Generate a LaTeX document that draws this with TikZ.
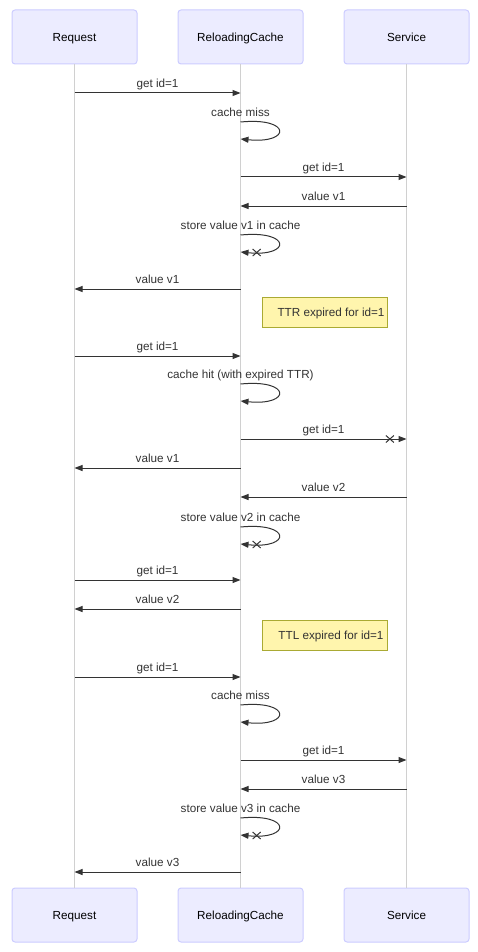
\documentclass[tikz,border=0pt]{standalone}
\usepackage{fontspec}
\setmainfont{Liberation Sans}
\usetikzlibrary{arrows.meta,shapes.misc}

\definecolor{actfill}{HTML}{ECECFF}
\definecolor{actline}{HTML}{CCCCFF}
\definecolor{notefill}{HTML}{FFF5AD}
\definecolor{noteline}{HTML}{AAAA33}
\definecolor{ink}{HTML}{333333}
\definecolor{life}{HTML}{D0D0D0}

\newcommand\txtfont{\fontsize{11.7}{14}\selectfont}

% message between two lifelines: name, from, to, y, label
\newcommand\sendmsg[5]{%
  \draw[msg] (#2.south |- 0,#4) -- (#3.south |- 0,#4)
    node[lbl, midway, yshift=10pt] (#1) {#5};}
% message whose end is marked as lost
\newcommand\lostmsg[5]{%
  \draw[msg] (#2.south |- 0,#4) -- (#3.south |- 0,#4)
    node[lbl, midway, yshift=10pt] (#1) {#5}
    node[xmark, pos=0.9] (#1x) {};}
% self message on the cache lifeline: name, y, label
\newcommand\selfmsg[3]{%
  \node[lbl] (#1) at (rc.south |- 0,#2-10) {#3};
  \draw[msg] (rc.south |- 0,#2) .. controls +(51,-5) and +(51,5) .. (rc.south |- 0,#2+17);}
\newcommand\selflost[3]{%
  \node[lbl] (#1) at (rc.south |- 0,#2-10) {#3};
  \draw[msg] (rc.south |- 0,#2) .. controls +(51,-5) and +(51,5) .. (rc.south |- 0,#2+17)
    node[xmark, pos=0.88] (#1x) {};}

\begin{document}
\begin{tikzpicture}[x=1pt,y=-1pt,
  actor/.style={draw=actline, fill=actfill, rounded corners=3pt, line width=1pt,
    minimum width=125pt, minimum height=54pt, inner sep=0pt, font=\txtfont, text=black,
    text height=8.5pt, text depth=0pt},
  lifeline/.style={draw=life, line width=1pt},
  msg/.style={draw=ink, line width=1pt, -{Triangle[length=8pt,width=6pt]}},
  lbl/.style={font=\txtfont, text=ink, inner sep=0pt, text height=8.5pt, text depth=0pt},
  xmark/.style={cross out, draw=ink, line width=1pt, minimum width=7pt,
    minimum height=6pt, inner sep=0pt},
  notebox/.style={draw=noteline, fill=notefill, line width=1pt,
    minimum width=125pt, minimum height=30pt, inner sep=0pt},
]
\useasboundingbox (0,0) rectangle (477,952);

% participants, top and bottom
\node[actor] (rq)  at (74.5,37)  {Request};
\node[actor] (rc)  at (240.5,37) {ReloadingCache};
\node[actor] (sv)  at (406.5,37) {Service};
\node[actor] (rqb) at (74.5,915)  {Request};
\node[actor] (rcb) at (240.5,915) {ReloadingCache};
\node[actor] (svb) at (406.5,915) {Service};

% lifelines
\draw[lifeline] (rq.south) -- (rqb.north);
\draw[lifeline] (rc.south) -- (rcb.north);
\draw[lifeline] (sv.south) -- (svb.north);

% first request: miss, fetch, store
\sendmsg{m1}{rq}{rc}{93}{get id=1}
\selfmsg{m2}{122}{cache miss}
\sendmsg{m3}{rc}{sv}{177}{get id=1}
\sendmsg{m4}{sv}{rc}{206}{value v1}
\selflost{m5}{235}{store value v1 in cache}
\sendmsg{m6}{rc}{rq}{289}{value v1}

\node[notebox] (n1) at (324.5,312) {};
\node[lbl] (n1t) at (331,312) {TTR expired for id=1};

% second request: stale hit, background reload
\sendmsg{m7}{rq}{rc}{356}{get id=1}
\selfmsg{m8}{384}{cache hit (with expired TTR)}
\lostmsg{m9}{rc}{sv}{439}{get id=1}
\sendmsg{m10}{rc}{rq}{468}{value v1}
\sendmsg{m11}{sv}{rc}{497}{value v2}
\selflost{m12}{527}{store value v2 in cache}

% third request: fresh hit
\sendmsg{m13}{rq}{rc}{580}{get id=1}
\sendmsg{m14}{rc}{rq}{609}{value v2}

\node[notebox] (n2) at (324.5,635) {};
\node[lbl] (n2t) at (331,635) {TTL expired for id=1};

% fourth request: miss again
\sendmsg{m15}{rq}{rc}{677}{get id=1}
\selfmsg{m16}{705}{cache miss}
\sendmsg{m17}{rc}{sv}{760}{get id=1}
\sendmsg{m18}{sv}{rc}{789}{value v3}
\selflost{m19}{818}{store value v3 in cache}
\sendmsg{m20}{rc}{rq}{872}{value v3}
\end{tikzpicture}
\end{document}
